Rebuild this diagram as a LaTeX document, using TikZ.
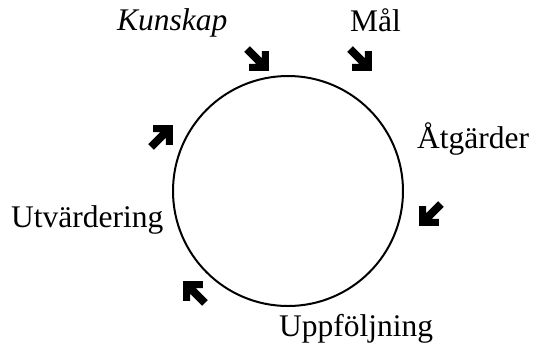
\documentclass[tikz,border=0pt]{standalone}
\usepackage{fontspec}
\setmainfont{Liberation Serif}

\tikzset{
  label/.style={anchor=base west, inner sep=0pt, font=\fontsize{31.5}{36}\selectfont},
  % fat arrow, pointing along +x, centred on the pic origin
  blockarrow/.pic={
    \fill[black] (15.5,0) -- (1.4,14.1) -- (-3.55,9.15) -- (1.6,4) -- (-15.5,4)
      -- (-15.5,-4) -- (1.6,-4) -- (-3.55,-9.15) -- (1.4,-14.1) -- cycle;
  }
}

\begin{document}
\begin{tikzpicture}[x=1pt, y=-1pt]
\useasboundingbox (0,0) rectangle (533,349);

% the cycle
\draw[line width=2pt] (288,191) circle[radius=115];

% labels round the circle
\node[label] (kunskap) at (117,30)  {\textit{Kunskap}};
\node[label] (mal)     at (350,31)  {Mål};
\node[label] (atgard)  at (417,148) {Åtgärder};
\node[label] (utvard)  at (11,227)  {Utvärdering};
\node[label] (uppfolj) at (279,336) {Uppföljning};

% arrows between the steps
\pic[rotate=-45]  at (258,60)  {blockarrow};
\pic[rotate=-45]  at (361,60)  {blockarrow};
\pic[rotate=-135] at (430,215) {blockarrow};
\pic[rotate=135]  at (194,292) {blockarrow};
\pic[rotate=45]   at (162,136) {blockarrow};
\end{tikzpicture}
\end{document}
